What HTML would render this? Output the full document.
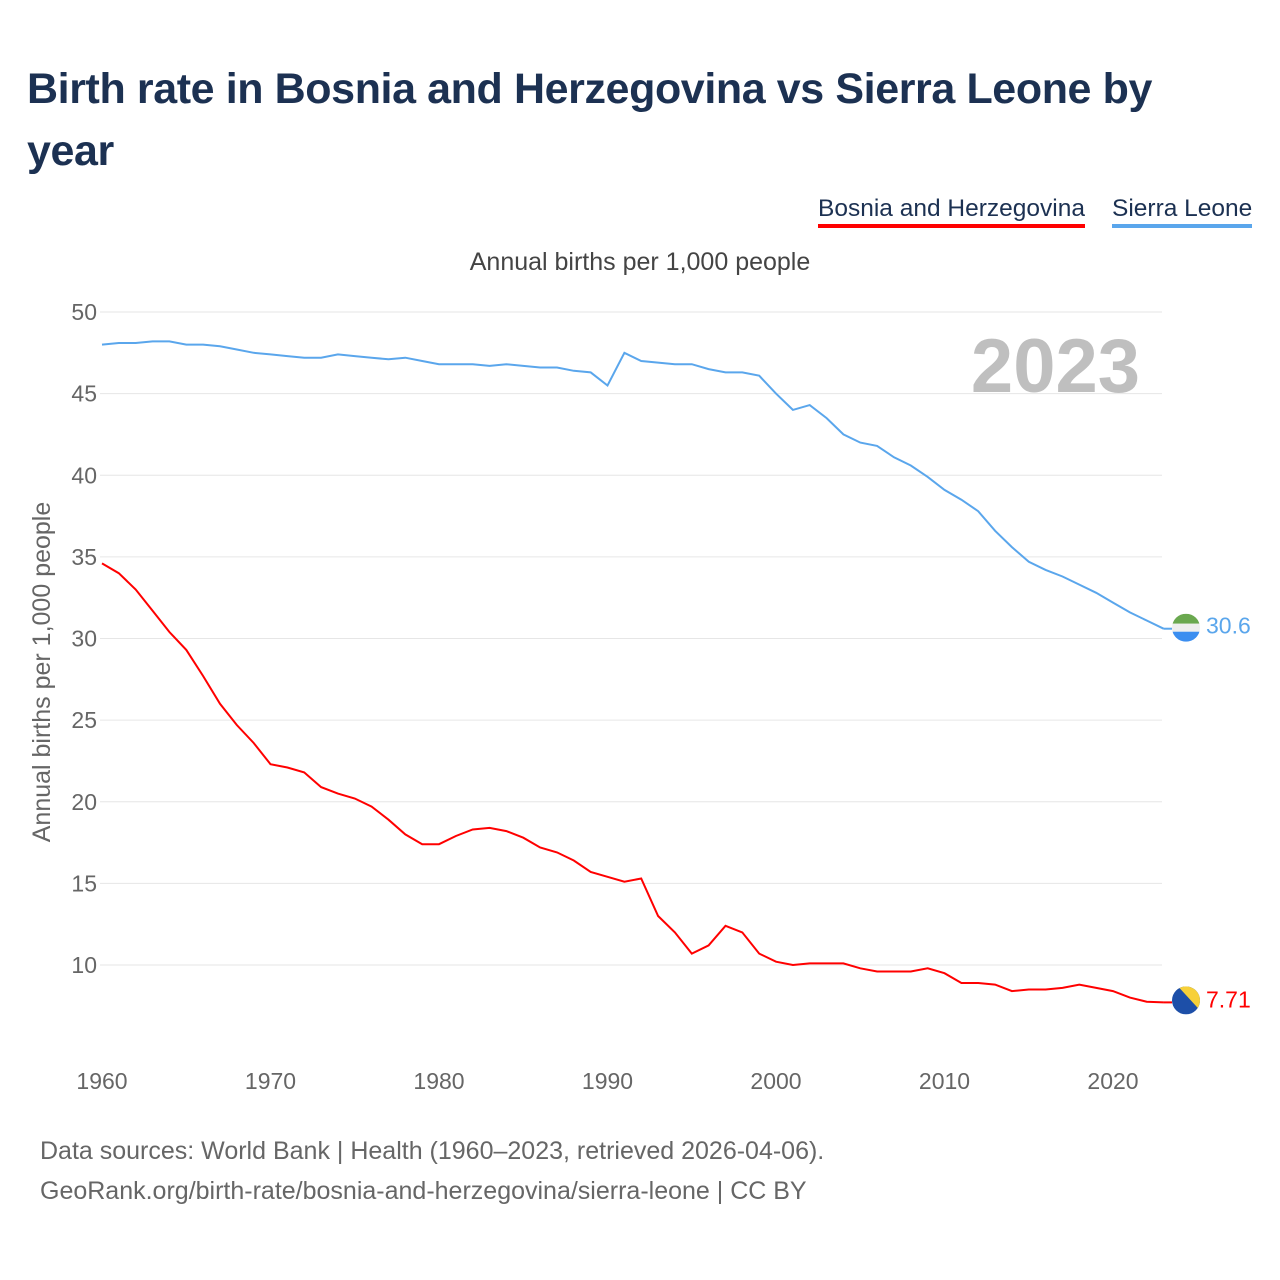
<!DOCTYPE html>
<html><head><meta charset="utf-8"><style>
body{margin:0;background:#fff;font-family:"Liberation Sans",sans-serif;}
#wrap{position:relative;width:1280px;height:1280px;overflow:hidden}
h1{position:absolute;left:27px;top:58px;margin:0;width:1220px;font-size:43px;letter-spacing:-0.4px;line-height:62px;color:#1c3152;font-weight:bold}
.leg{position:absolute;top:195px;font-size:24.5px;color:#1c3152;padding-bottom:1px}
.foot{position:absolute;left:40px;font-size:25px;color:#666}
</style></head><body><div id="wrap">
<h1>Birth rate in Bosnia and Herzegovina vs Sierra Leone by year</h1>
<div class="leg" style="left:818px;border-bottom:4px solid #ff0000">Bosnia and Herzegovina</div>
<div class="leg" style="left:1112px;border-bottom:4px solid #5aa6ec">Sierra Leone</div>
<svg id="chart" width="1280" height="1280" style="position:absolute;left:0;top:0"></svg>
<div class="foot" style="top:1137px">Data sources: World Bank | Health (1960–2023, retrieved 2026-04-06).</div>
<div class="foot" style="top:1177px">GeoRank.org/birth-rate/bosnia-and-herzegovina/sierra-leone | CC BY</div>
</div>
<script>
const years=[];for(let y=1960;y<=2023;y++)years.push(y);
const sierraLeone=[48.0,48.1,48.1,48.2,48.2,48.0,48.0,47.9,47.7,47.5,47.4,47.3,47.2,47.2,47.4,47.3,47.2,47.1,47.2,47.0,46.8,46.8,46.8,46.7,46.8,46.7,46.6,46.6,46.4,46.3,45.5,47.5,47.0,46.9,46.8,46.8,46.5,46.3,46.3,46.1,45.0,44.0,44.3,43.5,42.5,42.0,41.8,41.1,40.6,39.9,39.1,38.5,37.8,36.6,35.6,34.7,34.2,33.8,33.3,32.8,32.2,31.6,31.1,30.6];
const bosnia=[34.6,34.0,33.0,31.7,30.4,29.3,27.7,26.0,24.7,23.6,22.3,22.1,21.8,20.9,20.5,20.2,19.7,18.9,18.0,17.4,17.4,17.9,18.3,18.4,18.2,17.8,17.2,16.9,16.4,15.7,15.4,15.1,15.3,13.0,12.0,10.7,11.2,12.4,12.0,10.7,10.2,10.0,10.1,10.1,10.1,9.8,9.6,9.6,9.6,9.8,9.5,8.9,8.9,8.8,8.4,8.5,8.5,8.6,8.8,8.6,8.4,8.0,7.75,7.71];
const yTicks=[10,15,20,25,30,35,40,45,50];
const xTicks=[1960,1970,1980,1990,2000,2010,2020];
const X=y=>102+(y-1960)*(1011/60);
const Y=v=>312+(50-v)*16.325;
const svg=document.getElementById('chart');const NS='http://www.w3.org/2000/svg';
function el(t,a,txt){const e=document.createElementNS(NS,t);for(const k in a)e.setAttribute(k,a[k]);if(txt!==undefined)e.textContent=txt;svg.appendChild(e);return e;}
yTicks.forEach(v=>{
 const g=el('line',{x1:100,x2:1162,y1:Y(v),y2:Y(v),stroke:'#e6e6e6','stroke-width':1});
 
 
 const t=el('text',{x:97,y:Y(v)+8,'text-anchor':'end','font-size':23,fill:'#666','font-family':'Liberation Sans'},v);
 
 
});
xTicks.forEach(v=>{
 const t=el('text',{x:X(v),y:1089,'text-anchor':'middle','font-size':23,fill:'#666','font-family':'Liberation Sans'},v);
 
 
});
let t=el('text',{x:640,y:270,'text-anchor':'middle','font-size':25,fill:'#444','font-family':'Liberation Sans'},'Annual births per 1,000 people');


t=el('text',{x:0,y:0,transform:'translate(50,672) rotate(-90)','text-anchor':'middle','font-size':25,fill:'#666','font-family':'Liberation Sans'},'Annual births per 1,000 people');


t=el('text',{x:1140,y:392,'text-anchor':'end','font-size':76,'font-weight':'bold',fill:'#bfbfbf','font-family':'Liberation Sans'},'2023');


function line(data,color,name){
 const p=el('path',{d:data.map((v,i)=>(i?'L':'M')+X(years[i]).toFixed(1)+','+Y(v).toFixed(1)).join(''),fill:'none',stroke:color,'stroke-width':2});
 
 
}
line(sierraLeone,'#5aa6ec','sierra-leone-line');
line(bosnia,'#ff0000','bosnia-line');
const sl=sierraLeone[sierraLeone.length-1], bh=bosnia[bosnia.length-1];
el('line',{x1:X(2023),x2:1172,y1:Y(sl),y2:Y(sl),stroke:'#5aa6ec','stroke-width':2});
el('line',{x1:X(2023),x2:1172,y1:Y(bh),y2:Y(bh),stroke:'#ff0000','stroke-width':2});
const cy1=Y(sl)-1;
el('clipPath',{id:'c1'}).innerHTML='<circle cx="1186" cy="'+cy1+'" r="14"/>';
let f=el('g',{'clip-path':'url(#c1)'});


f.innerHTML='<rect x="1172" y="'+(cy1-14)+'" width="28" height="10" fill="#6aa84f"/><rect x="1172" y="'+(cy1-4)+'" width="28" height="8" fill="#eee"/><rect x="1172" y="'+(cy1+4)+'" width="28" height="10" fill="#3b8ef0"/>';
const cy2=Y(bh)-2;
el('clipPath',{id:'c2'}).innerHTML='<circle cx="1186" cy="'+cy2+'" r="14"/>';
f=el('g',{'clip-path':'url(#c2)'});


f.innerHTML='<rect x="1172" y="'+(cy2-14)+'" width="28" height="28" fill="#1d4fa8"/><polygon points="1178,'+(cy2-14)+' 1200,'+(cy2-14)+' 1200,'+(cy2+10)+'" fill="#f7d038"/>';
t=el('text',{x:1206,y:Y(sl)+5,'font-size':23,fill:'#5aa6ec','font-family':'Liberation Sans'},'30.6');


t=el('text',{x:1206,y:Y(bh)+5,'font-size':23,fill:'#ff0000','font-family':'Liberation Sans'},'7.71');


</script></body></html>
